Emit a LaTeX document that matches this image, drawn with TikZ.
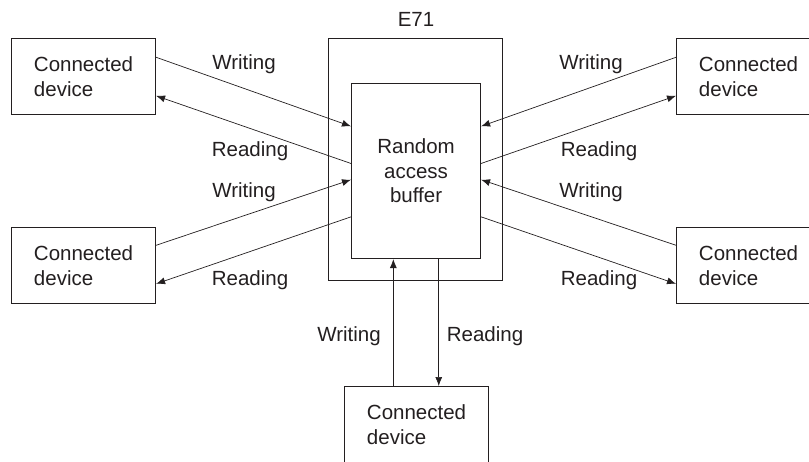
\documentclass[tikz,border=0pt]{standalone}
\usepackage{fontspec}
\setmainfont{Liberation Sans}
\usetikzlibrary{arrows.meta,calc}
\definecolor{ink}{HTML}{231F20}
\begin{document}
\begin{tikzpicture}[x=1pt,y=-1pt,
  txt/.style={font=\fontsize{20.5}{24.5}\selectfont,text=ink},
  box/.style={draw=ink,line width=1.1pt,inner sep=0pt,anchor=north west,txt},
  dev/.style={box,minimum width=144pt,minimum height=76pt,align=left},
  lab/.style={txt,inner sep=0pt,anchor=center},
  arr/.style={draw=ink,line width=0.7pt,-{Latex[length=9pt,width=7pt]}}]
\useasboundingbox (0,0) rectangle (809,461);
\clip (0,0) rectangle (809,461);
% E71 and buffer
\node[box,minimum width=174pt,minimum height=242pt] (e71) at (328,38) {};
\node[box,minimum width=129pt,minimum height=175pt,align=center] (buf) at (351,83) {Random\\access\\buffer};
\node[lab] (e71lab) at (416,19) {E71};
% devices
\node[dev] (tl) at (11,38) {Connected\\device};
\node[dev] (bl) at (11,227) {Connected\\device};
\node[dev] (tr) at (676,38) {Connected\\device};
\node[dev] (br) at (676,227) {Connected\\device};
\node[dev] (bt) at (344,386) {Connected\\device};
% coordinates on buffer
\coordinate (bw1) at ($(buf.north west)!0.246!(buf.south west)$);
\coordinate (bw2) at ($(buf.north west)!0.457!(buf.south west)$);
\coordinate (bw3) at ($(buf.north west)!0.549!(buf.south west)$);
\coordinate (bw4) at ($(buf.north west)!0.760!(buf.south west)$);
\coordinate (be1) at ($(buf.north east)!0.246!(buf.south east)$);
\coordinate (be2) at ($(buf.north east)!0.457!(buf.south east)$);
\coordinate (be3) at ($(buf.north east)!0.549!(buf.south east)$);
\coordinate (be4) at ($(buf.north east)!0.760!(buf.south east)$);
% coordinates on devices
\coordinate (tl1) at ($(tl.north east)!0.25!(tl.south east)$);
\coordinate (tl2) at ($(tl.north east)!0.75!(tl.south east)$);
\coordinate (bl1) at ($(bl.north east)!0.237!(bl.south east)$);
\coordinate (bl2) at ($(bl.north east)!0.737!(bl.south east)$);
\coordinate (tr1) at ($(tr.north west)!0.25!(tr.south west)$);
\coordinate (tr2) at ($(tr.north west)!0.75!(tr.south west)$);
\coordinate (br1) at ($(br.north west)!0.237!(br.south west)$);
\coordinate (br2) at ($(br.north west)!0.737!(br.south west)$);
\coordinate (bt1) at ($(bt.north west)!0.34!(bt.north east)$);
\coordinate (bt2) at ($(bt.north west)!0.653!(bt.north east)$);
% arrows
\draw[arr] (tl1) -- (bw1);
\draw[arr] (bw2) -- (tl2);
\draw[arr] (bl1) -- (bw3);
\draw[arr] (bw4) -- (bl2);
\draw[arr] (tr1) -- (be1);
\draw[arr] (be2) -- (tr2);
\draw[arr] (br1) -- (be3);
\draw[arr] (be4) -- (br2);
\draw[arr] (bt1) -- (bt1 |- buf.south);
\draw[arr] (bt2 |- buf.south) -- (bt2);
% labels
\node[lab] (l1) at (244,64) {Writing};
\node[lab] (l2) at (250,151) {Reading};
\node[lab] (l3) at (244,192) {Writing};
\node[lab] (l4) at (250,280) {Reading};
\node[lab] (l5) at (591,64) {Writing};
\node[lab] (l6) at (599,151) {Reading};
\node[lab] (l7) at (591,192) {Writing};
\node[lab] (l8) at (599,280) {Reading};
\node[lab] (l9) at (349,336) {Writing};
\node[lab] (l10) at (485,336) {Reading};
\end{tikzpicture}
\end{document}
